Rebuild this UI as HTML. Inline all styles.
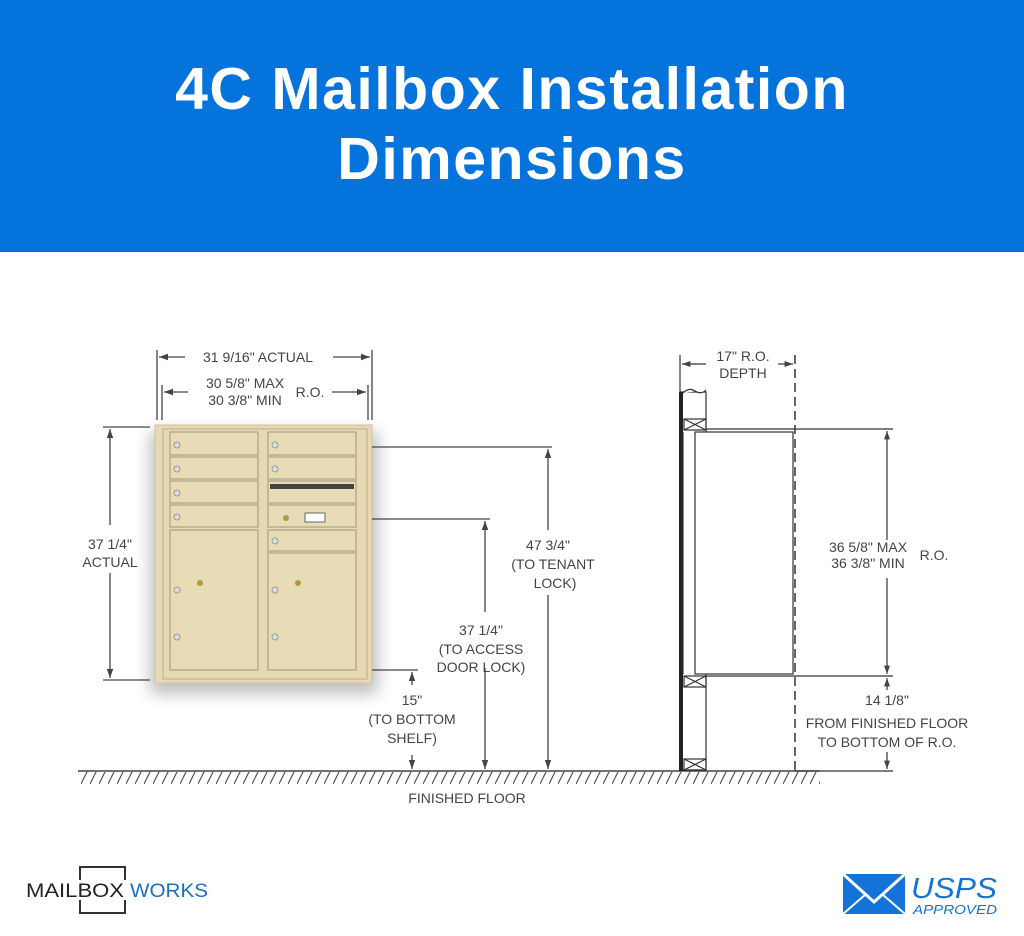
<!DOCTYPE html>
<html><head><meta charset="utf-8"><style>
html,body{margin:0;padding:0;background:#fff;}
body{width:1024px;height:936px;overflow:hidden;position:relative;font-family:"Liberation Sans",sans-serif;}
.hdr{position:absolute;left:0;top:0;width:1024px;height:252px;background:#0473dc;color:#fff;text-align:center;font-weight:bold;font-size:59px;line-height:70px;letter-spacing:1.5px;}
.hdr div{position:absolute;width:100%;}
svg{position:absolute;left:0;top:0;}
</style></head><body>
<div class="hdr"><div style="top:54px">4C Mailbox Installation</div><div style="top:124px">Dimensions</div></div>
<svg width="1024" height="936" viewBox="0 0 1024 936">
<defs>
<pattern id="h" width="9" height="14" patternUnits="userSpaceOnUse"><line x1="7" y1="0" x2="0" y2="14" stroke="#555" stroke-width="1.2"/></pattern>
<marker id="a" markerWidth="8" markerHeight="8" refX="7" refY="4" orient="auto"><path d="M0,1.5 L7,4 L0,6.5z" fill="#444"/></marker>
<filter id="sh" x="-30%" y="-30%" width="160%" height="160%"><feGaussianBlur stdDeviation="8"/></filter>
</defs>
<g font-size="14" fill="#444" text-anchor="middle" font-family="Liberation Sans,sans-serif">
<line x1="78" y1="771" x2="820" y2="771" stroke="#444" stroke-width="1.5"/>
<rect x="78" y="772" width="742" height="12" fill="url(#h)"/>
<text x="467" y="803">FINISHED FLOOR</text>
<rect x="150" y="432" width="228" height="262" fill="#000" opacity="0.25" filter="url(#sh)"/>
<rect x="155" y="425" width="217" height="258" fill="#e6d9b3" stroke="#cfc39e"/>
<rect x="163" y="429" width="204" height="250" fill="none" stroke="#b8ad8c"/>
<g fill="#e8dcb6" stroke="#9f957a" stroke-width="1">
<rect x="170" y="432" width="88" height="23"/><rect x="170" y="457" width="88" height="22"/>
<rect x="170" y="481" width="88" height="22"/><rect x="170" y="505" width="88" height="22"/>
<rect x="170" y="530" width="88" height="140"/>
<rect x="268" y="432" width="88" height="23"/><rect x="268" y="457" width="88" height="22"/>
<rect x="268" y="481" width="88" height="22"/><rect x="268" y="505" width="88" height="22"/>
<rect x="268" y="530" width="88" height="21"/><rect x="268" y="553" width="88" height="117"/>
</g>
<rect x="270" y="484" width="84" height="5" fill="#444"/>
<rect x="305" y="513" width="20" height="9" fill="#fff" stroke="#666"/>
<g fill="#ddd" stroke="#999"><circle cx="177" cy="445" r="3"/><circle cx="177" cy="469" r="3"/><circle cx="177" cy="493" r="3"/><circle cx="177" cy="517" r="3"/><circle cx="177" cy="590" r="3"/><circle cx="177" cy="637" r="3"/>
<circle cx="275" cy="445" r="3"/><circle cx="275" cy="469" r="3"/><circle cx="275" cy="541" r="3"/><circle cx="275" cy="590" r="3"/><circle cx="275" cy="637" r="3"/></g>
<g fill="#b59a3a"><circle cx="200" cy="583" r="3"/><circle cx="298" cy="583" r="3"/><circle cx="286" cy="518" r="3"/></g>
<g stroke="#444" stroke-width="1.3" fill="none">
<line x1="157" y1="350" x2="157" y2="420"/><line x1="372" y1="350" x2="372" y2="420"/>
<line x1="162" y1="385" x2="162" y2="420"/><line x1="368" y1="385" x2="368" y2="420"/>
<line x1="185" y1="357" x2="159" y2="357" marker-end="url(#a)"/><line x1="333" y1="357" x2="370" y2="357" marker-end="url(#a)"/>
<line x1="188" y1="392" x2="164" y2="392" marker-end="url(#a)"/><line x1="332" y1="392" x2="366" y2="392" marker-end="url(#a)"/>
<line x1="103" y1="427" x2="150" y2="427"/><line x1="103" y1="680" x2="150" y2="680"/>
<line x1="110" y1="525" x2="110" y2="429" marker-end="url(#a)"/><line x1="110" y1="573" x2="110" y2="678" marker-end="url(#a)"/>
<line x1="372" y1="447" x2="552" y2="447"/>
<line x1="548" y1="530" x2="548" y2="449" marker-end="url(#a)"/><line x1="548" y1="595" x2="548" y2="769" marker-end="url(#a)"/>
<line x1="372" y1="519" x2="490" y2="519"/>
<line x1="485" y1="612" x2="485" y2="521" marker-end="url(#a)"/><line x1="485" y1="668" x2="485" y2="769" marker-end="url(#a)"/>
<line x1="372" y1="670" x2="418" y2="670"/>
<line x1="412" y1="685" x2="412" y2="672" marker-end="url(#a)"/><line x1="412" y1="755" x2="412" y2="769" marker-end="url(#a)"/>
</g>
<text x="258" y="362">31 9/16" ACTUAL</text>
<text x="245" y="388">30 5/8" MAX</text><text x="245" y="405">30 3/8" MIN</text><text x="310" y="397">R.O.</text>
<text x="110" y="549">37 1/4"</text><text x="110" y="567">ACTUAL</text>
<text x="548" y="550">47 3/4"</text><text x="553" y="569">(TO TENANT</text><text x="555" y="588">LOCK)</text>
<text x="481" y="635">37 1/4"</text><text x="481" y="654">(TO ACCESS</text><text x="481" y="672">DOOR LOCK)</text>
<text x="412" y="705">15"</text><text x="412" y="724">(TO BOTTOM</text><text x="412" y="743">SHELF)</text>
<g stroke="#333" fill="none" stroke-width="1.2">
<rect x="681" y="392" width="25" height="378" fill="#fff"/>
<rect x="679" y="392" width="4" height="379" fill="#222" stroke="none"/>
<path d="M683,393 q6,-6 12,-2 q6,4 11,-1" fill="#fff"/>
<rect x="684" y="419" width="22" height="11"/><path d="M684,419 L706,430 M706,419 L684,430"/>
<rect x="684" y="676" width="22" height="11"/><path d="M684,676 L706,687 M706,676 L684,687"/>
<rect x="684" y="759" width="22" height="11"/><path d="M684,759 L706,770 M706,759 L684,770"/>
<rect x="695" y="432" width="98" height="242" fill="#fff"/>
<line x1="683" y1="432" x2="683" y2="674"/>
<line x1="706" y1="429" x2="893" y2="429"/><line x1="706" y1="676" x2="893" y2="676"/>
<line x1="795" y1="355" x2="795" y2="771" stroke-dasharray="9,5" stroke-width="1.5"/>
<line x1="680" y1="355" x2="680" y2="392"/>
<line x1="706" y1="364" x2="682" y2="364" marker-end="url(#a)"/><line x1="778" y1="364" x2="793" y2="364" marker-end="url(#a)"/>
<line x1="887" y1="540" x2="887" y2="431" marker-end="url(#a)"/><line x1="887" y1="578" x2="887" y2="674" marker-end="url(#a)"/>
<line x1="887" y1="690" x2="887" y2="678" marker-end="url(#a)"/><line x1="887" y1="752" x2="887" y2="769" marker-end="url(#a)"/>
<line x1="795" y1="771" x2="893" y2="771"/>
</g>
<text x="743" y="361">17" R.O.</text><text x="743" y="378">DEPTH</text>
<text x="868" y="552">36 5/8" MAX</text><text x="868" y="568">36 3/8" MIN</text><text x="934" y="560">R.O.</text>
<text x="887" y="705">14 1/8"</text><text x="887" y="728">FROM FINISHED FLOOR</text><text x="887" y="747">TO BOTTOM OF R.O.</text>
</g>
<rect x="80" y="867" width="45" height="46" fill="none" stroke="#333" stroke-width="2"/>
<rect x="40" y="880" width="86" height="20" fill="#fff"/>
<text x="26" y="897" font-size="19" font-family="Liberation Sans,sans-serif" fill="#222" textLength="98" lengthAdjust="spacingAndGlyphs">MAILBOX</text>
<text x="130" y="897" font-size="19" font-family="Liberation Sans,sans-serif" fill="#1a6fc7" textLength="78" lengthAdjust="spacingAndGlyphs">WORKS</text>
<rect x="843" y="874" width="62" height="40" fill="#1473d8"/>
<path d="M843,874 L874,902 L905,874" fill="none" stroke="#fff" stroke-width="3"/>
<path d="M843,914 L866,894 M905,914 L882,894" stroke="#fff" stroke-width="2"/>
<text x="911" y="898" font-size="29" font-style="italic" fill="#1473d8" font-family="Liberation Sans,sans-serif" textLength="86" lengthAdjust="spacingAndGlyphs">USPS</text>
<text x="913" y="914" font-size="13" font-style="italic" fill="#1473d8" font-family="Liberation Sans,sans-serif" textLength="84" lengthAdjust="spacingAndGlyphs">APPROVED</text>
</svg>
</body></html>
